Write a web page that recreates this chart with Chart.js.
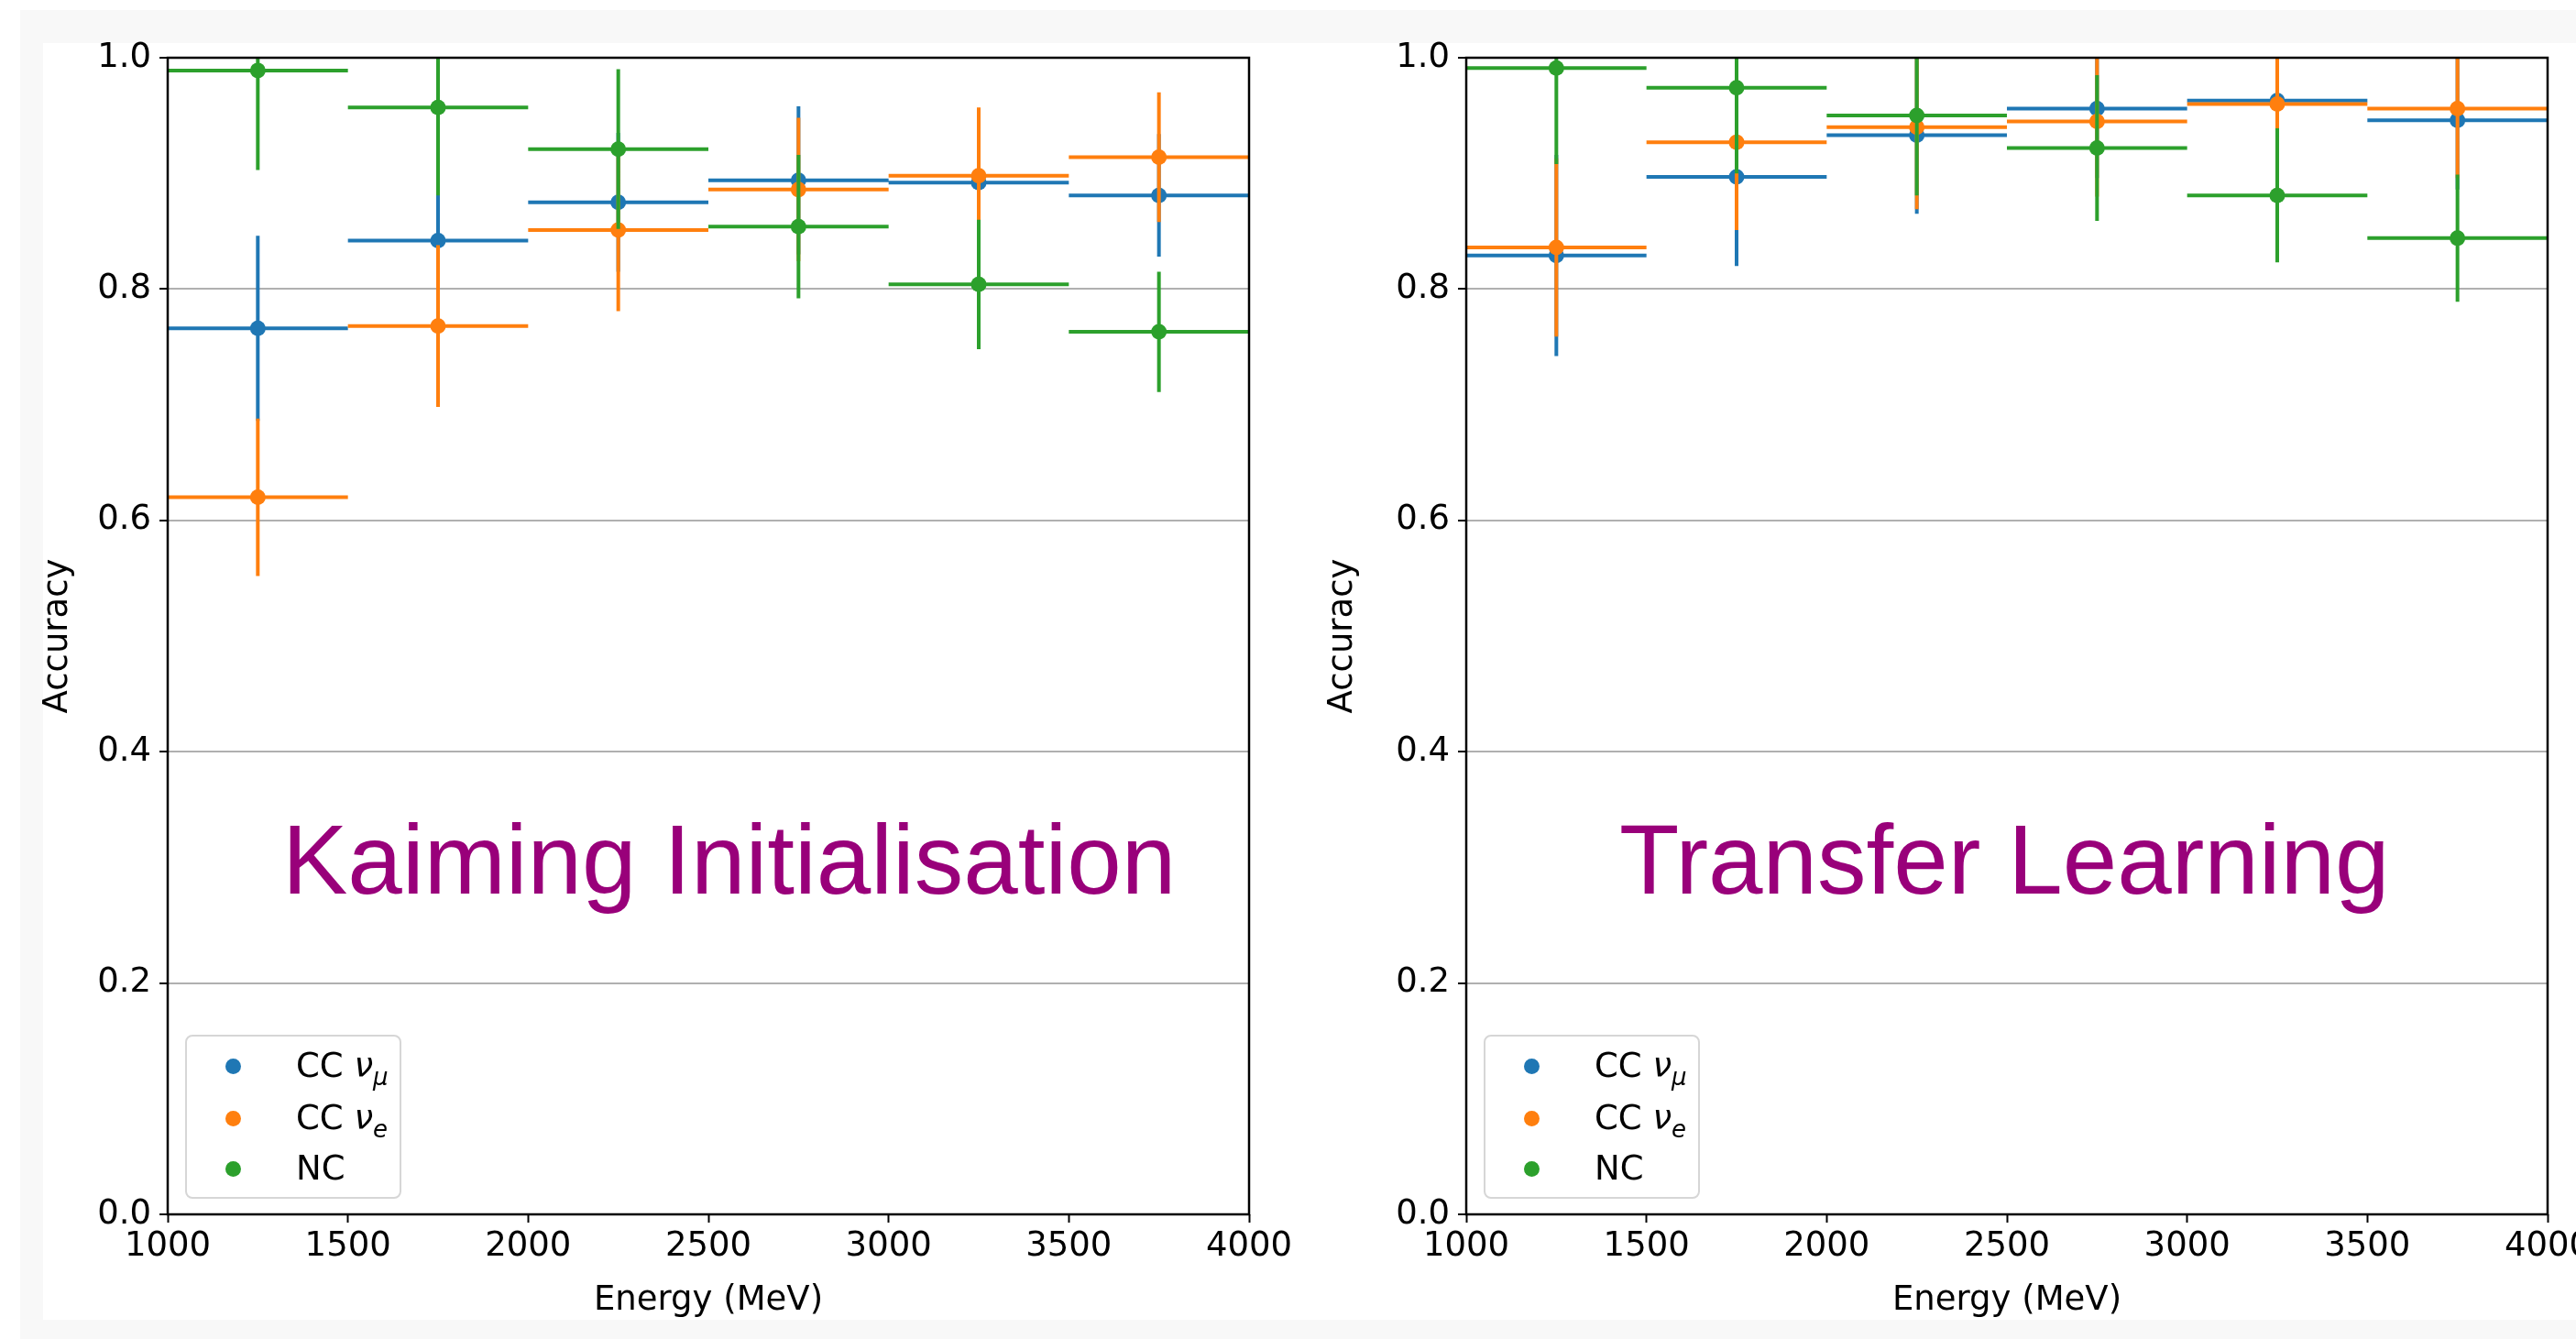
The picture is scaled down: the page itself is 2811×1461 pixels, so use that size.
<!DOCTYPE html>
<html>
<head>
<meta charset="utf-8">
<script src="https://cdn.jsdelivr.net/npm/chart.js@4.4.1/dist/chart.umd.min.js"></script>
<style>
  html, body { margin: 0; padding: 0; width: 2811px; height: 1461px; overflow: hidden; background: #fff; }
  .outer { position: absolute; left: 22px; top: 11px; width: 2900px; height: 1500px; background: #f8f8f8; }
  .panel { position: absolute; left: 47px; top: 47px; width: 2900px; height: 1393px; background: #fff; }
  canvas { position: absolute; top: 0; }
  .big { position: absolute; font-family: "Liberation Sans", Arial, sans-serif; font-size: 107px; line-height: 107px;
         color: #99007a; white-space: nowrap; }
  .legend { position: absolute; box-sizing: border-box; width: 236px; height: 179px; background: rgba(255,255,255,0.8);
            border: 2px solid #d6d6d6; border-radius: 8px; font-family: "DejaVu Sans", sans-serif; font-size: 37px; color: #000; }
  .legend .dot { position: absolute; left: 42px; width: 17px; height: 17px; border-radius: 50%; }
  .legend .lbl { position: absolute; left: 119px; height: 56px; line-height: 56px; white-space: nowrap; }
  .legend i { font-style: oblique; }
  .legend sub { font-size: 26px; vertical-align: -9px; line-height: 0; }
</style>
</head>
<body>
<div class="outer"></div>
<div class="panel"></div>
<canvas id="kaimingChart" width="1423" height="1442" style="left:0px"></canvas>
<canvas id="transferChart" width="1438" height="1442" style="left:1402px"></canvas>
<div class="big" style="left:308px; top:885px">Kaiming Initialisation</div>
<div class="big" style="left:1767px; top:885px">Transfer Learning</div>
<div class="legend" id="kaimingLegend"></div>
<div class="legend" id="transferLegend"></div>
<script>
// Energy bins (MeV): centre and half width of each bin
var energyCenters = [1250, 1750, 2250, 2750, 3250, 3750];
var binHalfWidth = 250;

// Kaiming initialisation: accuracy and its error per bin
var kaimingNuMu    = [0.766, 0.842, 0.875, 0.894, 0.892, 0.881];
var kaimingNuMuErr = [0.080, 0.060, 0.060, 0.064, 0.060, 0.053];
var kaimingNuE     = [0.620, 0.768, 0.851, 0.886, 0.898, 0.914];
var kaimingNuEErr  = [0.068, 0.070, 0.070, 0.062, 0.059, 0.056];
var kaimingNC      = [0.989, 0.957, 0.921, 0.854, 0.804, 0.763];
var kaimingNCErr   = [0.086, 0.076, 0.069, 0.062, 0.056, 0.052];

// Transfer learning
var transferNuMu    = [0.829, 0.897, 0.933, 0.956, 0.963, 0.946];
var transferNuMuErr = [0.087, 0.077, 0.068, 0.060, 0.060, 0.060];
var transferNuE     = [0.836, 0.927, 0.940, 0.945, 0.960, 0.956];
var transferNuEErr  = [0.077, 0.076, 0.071, 0.065, 0.060, 0.060];
var transferNC      = [0.991, 0.974, 0.950, 0.922, 0.881, 0.844];
var transferNCErr   = [0.083, 0.074, 0.069, 0.063, 0.058, 0.055];

var seriesLabels = ['CC <i>ν</i><sub><i>μ</i></sub>', 'CC <i>ν</i><sub><i>e</i></sub>', 'NC'];
var seriesColors = ['#1f77b4', '#ff7f0e', '#2ca02c'];

var xTicks = [1000, 1500, 2000, 2500, 3000, 3500, 4000];
var yTicks = [0, 0.2, 0.4, 0.6, 0.8, 1.0];

Chart.defaults.font.family = '"DejaVu Sans", sans-serif';
Chart.defaults.font.size = 37;
Chart.defaults.color = '#000';

// black box round the plot area, drawn over the data like matplotlib spines
var framePlugin = {
  id: 'frame',
  afterDatasetsDraw: function (chart) {
    var a = chart.chartArea, ctx = chart.ctx;
    ctx.save();
    ctx.strokeStyle = '#000';
    ctx.lineWidth = 2.5;
    ctx.strokeRect(a.left, a.top, a.right - a.left, a.bottom - a.top);
    ctx.restore();
  }
};

// horizontal (bin width) and vertical (error) segments, broken by nulls
function errorSegments(values, errors) {
  var pts = [];
  for (var i = 0; i < energyCenters.length; i++) {
    var c = energyCenters[i], v = values[i];
    pts.push({ x: c - binHalfWidth, y: v }, { x: c + binHalfWidth, y: v }, { x: c, y: null });
    pts.push({ x: c, y: v - errors[i] }, { x: c, y: v + errors[i] }, { x: c, y: null });
  }
  return pts;
}

function markerPoints(values) {
  return energyCenters.map(function (c, i) { return { x: c, y: values[i] }; });
}

function makeChart(id, values, errors, yWidth) {
  var datasets = [];
  // first series is drawn first (highest order), NC ends on top
  values.forEach(function (vals, k) {
    var base = (values.length - 1 - k) * 2;
    datasets.push({
      type: 'scatter', showLine: true, spanGaps: false,
      data: errorSegments(vals, errors[k]),
      borderColor: seriesColors[k], borderWidth: 4, pointRadius: 0, pointHoverRadius: 0,
      order: base + 1
    });
    datasets.push({
      type: 'scatter', data: markerPoints(vals),
      backgroundColor: seriesColors[k], borderWidth: 0, pointRadius: 8.5, pointHoverRadius: 8.5,
      order: base
    });
  });

  return new Chart(document.getElementById(id), {
    type: 'scatter',
    data: { datasets: datasets },
    plugins: [framePlugin],
    options: {
      responsive: false,
      animation: false,
      events: [],
      layout: { padding: { left: 41, top: 63, right: 60, bottom: 0 } },
      plugins: { legend: { display: false }, tooltip: { enabled: false } },
      scales: {
        x: {
          type: 'linear', min: xTicks[0], max: xTicks[xTicks.length - 1],
          afterBuildTicks: function (s) { s.ticks = xTicks.map(function (v) { return { value: v }; }); },
          ticks: { callback: function (v) { return String(v); }, maxRotation: 0, autoSkip: false, padding: 4 },
          grid: { drawOnChartArea: false, drawTicks: true, tickLength: 9, tickColor: '#000', tickWidth: 2 },
          border: { display: false },
          title: { display: true, text: 'Energy (MeV)', padding: 0 },
          afterFit: function (s) { s.height = 117; }
        },
        y: {
          type: 'linear', min: yTicks[0], max: yTicks[yTicks.length - 1],
          afterBuildTicks: function (s) { s.ticks = yTicks.map(function (v) { return { value: v }; }); },
          ticks: { callback: function (v) { return v.toFixed(1); }, padding: 9 },
          grid: { color: '#b0b0b0', lineWidth: 2, tickColor: '#000', tickWidth: 2, tickLength: 9 },
          border: { display: false },
          title: { display: true, text: 'Accuracy', padding: 0 },
          afterFit: function (s) { s.width = yWidth; }
        }
      }
    }
  });
}

function buildLegend(el, chart, canvasLeft) {
  var rowCentres = [34, 91, 146];
  seriesLabels.forEach(function (lbl, k) {
    var dot = document.createElement('div');
    dot.className = 'dot';
    dot.style.background = seriesColors[k];
    dot.style.top = (rowCentres[k] - 8 - 2) + 'px';
    el.appendChild(dot);
    var txt = document.createElement('div');
    txt.className = 'lbl';
    txt.innerHTML = lbl;
    txt.style.top = (rowCentres[k] - 28 - 2) + 'px';
    el.appendChild(txt);
  });
  var a = chart.chartArea;
  el.style.left = (canvasLeft + a.left + 19) + 'px';
  el.style.top = (a.bottom - 17 - 179) + 'px';
}

var kaiming = makeChart('kaimingChart',
  [kaimingNuMu, kaimingNuE, kaimingNC],
  [kaimingNuMuErr, kaimingNuEErr, kaimingNCErr], 142);
var transfer = makeChart('transferChart',
  [transferNuMu, transferNuE, transferNC],
  [transferNuMuErr, transferNuEErr, transferNCErr], 157);

buildLegend(document.getElementById('kaimingLegend'), kaiming, 0);
buildLegend(document.getElementById('transferLegend'), transfer, 1402);
</script>
</body>
</html>
